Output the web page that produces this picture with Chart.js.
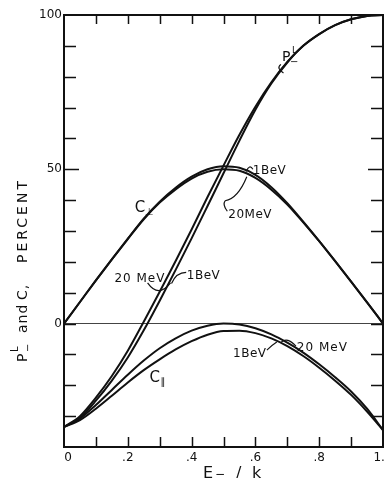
<!DOCTYPE html>
<html><head><meta charset="utf-8">
<script src="https://cdn.jsdelivr.net/npm/chart.js@4/dist/chart.umd.min.js"></script>
<style>html,body{margin:0;padding:0;background:#fff;}#wrap{width:385px;height:478px;}</style>
</head><body><div id="wrap"><canvas id="c" width="385" height="478"></canvas></div>
<script>
// E-/k values
const energyRatio = [0,0.05,0.1,0.15,0.2,0.25,0.3,0.35,0.4,0.45,0.5,0.55,0.6,0.65,0.7,0.75,0.8,0.85,0.9,0.95,1.0];
// C perpendicular
const cPerp1BeV  = [0,7,14,20.8,27.5,34,39.5,44,47.6,50,51,50.5,48.2,44.2,39,33,26.7,20.2,13.6,6.9,0];
const cPerp20MeV = [0,7,14,20.8,27.4,33.8,39.2,43.5,47,49.2,50,49.5,47.2,43.4,38.6,32.8,26.7,20.2,13.6,6.9,0];
// P-^L
const pL20MeV = [-33.5,-30,-24,-17,-8.8,0.6,10.3,20.3,30.5,41,51.2,61.2,70.3,78.2,84.8,90,93.8,96.7,98.6,99.7,100];
const pL1BeV  = [-33.5,-30.5,-25,-18.5,-11,-2.2,7.4,17.4,27.6,38.1,48.7,59.3,69.3,77.8,84.6,90,93.8,96.7,98.6,99.7,100];
// C parallel
const cPar20MeV = [-33.5,-30.8,-26.4,-21.5,-16.6,-12,-8,-4.8,-2.3,-0.7,0,-0.3,-1.5,-3.5,-6.2,-9.4,-13.2,-17.4,-22,-27.6,-34.5];
const cPar1BeV  = [-33.5,-31.3,-27.6,-23.4,-19.1,-15.1,-11.6,-8.4,-5.7,-3.6,-2.4,-2.3,-3.1,-4.8,-7.3,-10.5,-14.3,-18.5,-23.1,-28.5,-34.5];
// tick labels
const xTickValues = [0,0.2,0.4,0.6,0.8,1.0];
const xTickText = ['0','.2','.4','.6','.8','1.0'];
const yTickValues = [0,50,100];
const yTickText = ['0','50','100'];

const pts = arr => arr.map((v,i)=>({x:energyRatio[i], y:v}));
const INK = '#111';
const mk = (label, arr) => ({label, data: pts(arr), borderColor: INK, borderWidth: 2, pointRadius: 0, fill: false, cubicInterpolationMode: 'monotone'});

const notes = {
  id: 'notes',
  afterDatasetsDraw(chart) {
    const ctx = chart.ctx, xs = chart.scales.x, ys = chart.scales.y;
    const {left, right, top, bottom} = chart.chartArea;
    const P = (x, y) => [xs.getPixelForValue(x), ys.getPixelForValue(y)];
    ctx.save();
    ctx.strokeStyle = INK; ctx.fillStyle = INK;
    // frame
    ctx.lineWidth = 2;
    ctx.strokeRect(left, top, right - left, bottom - top);
    // inward ticks
    ctx.lineWidth = 1.5;
    ctx.beginPath();
    for (let v = -30; v <= 90; v += 10) {
      const py = Math.round(ys.getPixelForValue(v)) + 0.5;
      const L = (v === 50) ? 15 : 12;
      ctx.moveTo(left, py); ctx.lineTo(left + L, py);
      ctx.moveTo(right, py); ctx.lineTo(right - L, py);
    }
    for (let k = 1; k <= 9; k++) {
      const px = Math.round(xs.getPixelForValue(k / 10)) + 0.5;
      ctx.moveTo(px, top); ctx.lineTo(px, top + 9);
      ctx.moveTo(px, bottom); ctx.lineTo(px, bottom - 10);
    }
    ctx.stroke();
    // x tick labels
    ctx.font = '12px "DejaVu Sans"';
    ctx.textAlign = 'center'; ctx.textBaseline = 'middle';
    xTickValues.forEach((v, i) => {
      let px = xs.getPixelForValue(v);
      if (i === 0) px += 4;
      ctx.fillText(xTickText[i], px, 458);
    });
    // x title  E_ / k
    ctx.textAlign = 'left'; ctx.textBaseline = 'alphabetic';
    ctx.font = '16px "DejaVu Sans"';
    ctx.fillText('E', 203, 478);
    ctx.font = '12px "DejaVu Sans"';
    ctx.fillText('\u2212', 215, 478);
    ctx.font = '16px "DejaVu Sans"';
    ctx.fillText('/', 236, 478);
    ctx.fillText('k', 252, 478);
    // y title rotated
    ctx.save();
    ctx.translate(27, 0);
    ctx.rotate(-Math.PI / 2);
    ctx.font = '14px "DejaVu Sans"';
    ctx.fillText('P', -362, 0);
    ctx.font = '10px "DejaVu Sans"';
    ctx.fillText('\u2212', -352, 4);
    ctx.fillText('L', -352, -9);
    ctx.font = '14px "DejaVu Sans"';
    ctx.letterSpacing = '1px';
    ctx.fillText('and', -333, 0);
    ctx.fillText('C,', -300, 0);
    ctx.letterSpacing = '3px';
    ctx.fillText('PERCENT', -263, 0);
    ctx.letterSpacing = '0px';
    ctx.restore();

    // curve labels
    const text = (s, x, y, size, sp) => {
      const [px, py] = P(x, y);
      ctx.font = size + 'px "DejaVu Sans"';
      ctx.letterSpacing = (sp || 0) + 'px';
      ctx.fillText(s, px, py);
      ctx.letterSpacing = '0px';
      return [px, py];
    };
    let p;
    p = text('P', 0.683, 85, 14);
    ctx.font = '10px "DejaVu Sans"'; ctx.fillText('\u2212', p[0] + 8, p[1] + 4);
    ctx.font = '9px "DejaVu Sans"'; ctx.fillText('L', p[0] + 10, p[1] - 8);
    p = text('C', 0.222, 36.2, 15);
    ctx.font = '10px "DejaVu Sans"'; ctx.fillText('\u22A5', p[0] + 10, p[1] + 3);
    p = text('C', 0.268, -18.8, 15);
    ctx.font = '10px "DejaVu Sans"'; ctx.fillText('\u2225', p[0] + 11, p[1] + 3);
    text('20 MeV', 0.158, 13.6, 12, 1);
    text('1BeV', 0.385, 14.6, 12, 0.5);
    text('1BeV', 0.592, 48.4, 12, 0.5);
    text('20MeV', 0.515, 34.3, 12, 0.5);
    text('1BeV', 0.53, -10.7, 12, 0.5);
    text('20 MeV', 0.73, -9.0, 12, 1);

    // leader strokes
    ctx.lineWidth = 1.2;
    const lead = (a, c, b) => {
      const A = P(a[0], a[1]), C = P(c[0], c[1]), B = P(b[0], b[1]);
      ctx.beginPath(); ctx.moveTo(A[0], A[1]); ctx.quadraticCurveTo(C[0], C[1], B[0], B[1]); ctx.stroke();
    };
    lead([0.680, 84.0], [0.664, 82.8], [0.688, 81.2]);
    lead([0.571, 49.3], [0.582, 51.8], [0.592, 50.0]);
    lead([0.573, 47.6], [0.545, 40.5], [0.505, 39.8]);
    lead([0.505, 39.8], [0.496, 38.5], [0.512, 36.4]);
    lead([0.262, 13.2], [0.296, 8.2], [0.334, 13.2]);
    lead([0.337, 13.0], [0.352, 16.6], [0.383, 16.6]);
    lead([0.636, -8.6], [0.652, -7.0], [0.667, -6.0]);
    lead([0.681, -6.0], [0.700, -4.2], [0.727, -7.3]);
    ctx.restore();
  }
};

new Chart(document.getElementById('c'), {
  type: 'line',
  data: { datasets: [
    mk('C\u22A5 1 BeV', cPerp1BeV), mk('C\u22A5 20 MeV', cPerp20MeV),
    mk('P\u2212L 20 MeV', pL20MeV), mk('P\u2212L 1 BeV', pL1BeV),
    mk('C\u2225 20 MeV', cPar20MeV), mk('C\u2225 1 BeV', cPar1BeV)
  ]},
  options: {
    responsive: false, animation: false, devicePixelRatio: 1,
    layout: { padding: { top: 15, right: 2, left: 0, bottom: 0 } },
    plugins: { legend: { display: false }, tooltip: { enabled: false } },
    scales: {
      x: { type: 'linear', min: 0, max: 1,
        grid: { display: false, drawTicks: false }, border: { display: false },
        ticks: { display: false },
        afterFit(s) { s.height = 31; } },
      y: { type: 'linear', min: -40, max: 100,
        ticks: { stepSize: 10, autoSkip: false, padding: 2, color: INK,
          font: { family: 'DejaVu Sans', size: 12 },
          callback: v => { const i = yTickValues.indexOf(v); return i >= 0 ? yTickText[i] : ''; } },
        grid: { drawTicks: false, lineWidth: 1,
          color: c => (c.tick && c.tick.value === 0) ? '#444' : 'rgba(0,0,0,0)' },
        border: { display: false },
        afterFit(s) { s.width = 64; } }
    }
  },
  plugins: [notes]
});
</script></body></html>
